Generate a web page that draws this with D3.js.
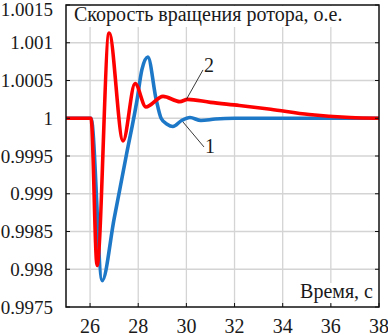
<!DOCTYPE html>
<html>
<head>
<meta charset="UTF-8">
<title>Скорость вращения ротора</title>
<script src="https://cdn.jsdelivr.net/npm/d3@7"></script>
<style>
body{margin:0;background:#fff;}
svg text{font-family:'Liberation Serif' !important;}
</style>
</head>
<body>
<script>
// время, с
var t1 = [25, 26.04, 26.5, 27.0, 27.5, 27.95, 28.15, 28.4, 28.75, 28.95, 29.2, 29.44, 29.8, 30.15, 30.6, 31.2, 32, 35, 38];
// кривая 1 (синяя)
var w1 = [1.0, 1.0, 0.99785, 0.99867, 0.9995, 1.00024, 1.00064, 1.00081, 1.00024, 1.0, 0.99992, 0.99989, 0.99997, 1.00001, 0.99997, 0.99999, 1.0, 1.0, 1.0];
var t2 = [25, 26.04, 26.29, 26.79, 27.37, 27.87, 28.32, 29.03, 29.73, 30.05, 31.0, 32.2, 33.5, 35.1, 36.8, 38];
// кривая 2 (красная)
var w2 = [1.0, 1.0, 0.99805, 1.00113, 0.9997, 1.00046, 1.00015, 1.00029, 1.00022, 1.00025, 1.00021, 1.00017, 1.00012, 1.00005, 1.00001, 1.0];
var xTicks = [26, 28, 30, 32, 34, 36, 38];
var yTicks = [0.9975, 0.998, 0.9985, 0.999, 0.9995, 1, 1.0005, 1.001, 1.0015];
var yLabels = ["0.9975", "0.998", "0.9985", "0.999", "0.9995", "1", "1.0005", "1.001", "1.0015"];
// выноски: [t кривой, w кривой, t подписи, w подписи, текст]
var callouts = [[29.86, 0.99995, 30.73, 0.99962, "1"], [30.0, 1.00025, 30.69, 1.00064, "2"]];

var FONT = "Liberation Serif";
var width = 388, height = 335;
var svg = d3.select("body").append("svg").attr("width", width).attr("height", height).attr("font-family", FONT);
var x = d3.scaleLinear().domain([25, 38]).range([66, 379]);
var y = d3.scaleLinear().domain([0.9975, 1.0015]).range([307, 5]);

//сетка
svg.selectAll(".gx").data(xTicks.slice(0, -1)).enter().append("line")
	.attr("x1", function(d){return x(d);}).attr("x2", function(d){return x(d);})
	.attr("y1", y(0.9975)).attr("y2", y(1.0015)).attr("stroke", "#d4d4d4").attr("stroke-width", 1.3);
svg.selectAll(".gy").data(yTicks.slice(1, -1)).enter().append("line")
	.attr("x1", x(25)).attr("x2", x(38)).attr("y1", function(d){return y(d);}).attr("y2", function(d){return y(d);})
	.attr("stroke", "#d4d4d4").attr("stroke-width", 1.3);

//белые подложки под подписи
svg.append("rect").attr("x", x(25) + 1).attr("y", y(1.0015) + 1).attr("width", 290).attr("height", 21).attr("fill", "#fff");
svg.append("rect").attr("x", 294).attr("y", 283).attr("width", 82).attr("height", 21).attr("fill", "#fff");

//кривые
var line = d3.line().curve(d3.curveMonotoneX);
svg.append("path").attr("d", line(t1.map(function(d, i){return [x(d), y(w1[i])];})))
	.attr("fill", "none").attr("stroke", "#1e78c8").attr("stroke-width", 3.6).attr("stroke-linejoin", "round");
svg.append("path").attr("d", line(t2.map(function(d, i){return [x(d), y(w2[i])];})))
	.attr("fill", "none").attr("stroke", "#ff0000").attr("stroke-width", 3.6).attr("stroke-linejoin", "round");

//выноски
callouts.forEach(function(c){
	svg.append("line").attr("x1", x(c[0])).attr("y1", y(c[1])).attr("x2", x(c[2])).attr("y2", y(c[3]))
		.attr("stroke", "#222").attr("stroke-width", 0.9);
	svg.append("text").attr("x", x(c[2]) + 1).attr("y", c[4] == "1" ? y(c[3]) + 6 : y(c[3]) + 2)
		.attr("font-family", FONT).attr("font-size", 20).attr("fill", "#1a1a1a").text(c[4]);
});

//рамка и засечки
svg.append("rect").attr("x", x(25)).attr("y", y(1.0015)).attr("width", x(38) - x(25)).attr("height", y(0.9975) - y(1.0015))
	.attr("fill", "none").attr("stroke", "#111").attr("stroke-width", 1.5);
svg.selectAll(".tl").data(yTicks).enter().append("line")
	.attr("x1", x(25)).attr("x2", x(25) + 4).attr("y1", function(d){return y(d);}).attr("y2", function(d){return y(d);})
	.attr("stroke", "#111");
svg.selectAll(".tr").data(yTicks).enter().append("line")
	.attr("x1", x(38)).attr("x2", x(38) - 4).attr("y1", function(d){return y(d);}).attr("y2", function(d){return y(d);})
	.attr("stroke", "#111");
svg.selectAll(".tb").data(xTicks).enter().append("line")
	.attr("x1", function(d){return x(d);}).attr("x2", function(d){return x(d);}).attr("y1", y(0.9975)).attr("y2", y(0.9975) - 4)
	.attr("stroke", "#111");

//подписи осей
svg.selectAll(".yl").data(yTicks).enter().append("text")
	.attr("x", 53).attr("y", function(d){return Math.max(y(d), 9);}).attr("dy", "0.35em").attr("text-anchor", "end")
	.attr("font-family", FONT).attr("font-size", 19).attr("fill", "#1a1a1a").text(function(d, i){return yLabels[i];});
svg.selectAll(".xl").data(xTicks).enter().append("text")
	.attr("x", function(d){return x(d);}).attr("y", 333).attr("text-anchor", "middle")
	.attr("font-family", FONT).attr("font-size", 20).attr("fill", "#1a1a1a").text(function(d){return d;});

//заголовок
svg.append("text").attr("x", 74).attr("y", 21).attr("font-family", FONT).attr("font-size", 20)
	.attr("fill", "#1a1a1a").text("Скорость вращения ротора, о.е.");
svg.append("text").attr("x", 373).attr("y", 298).attr("text-anchor", "end").attr("font-family", FONT).attr("font-size", 20)
	.attr("fill", "#1a1a1a").text("Время, с");
</script>
</body>
</html>
